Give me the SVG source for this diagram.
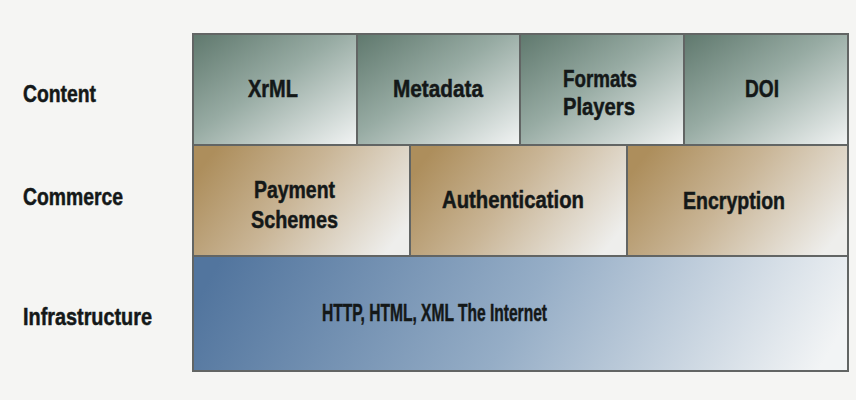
<svg xmlns="http://www.w3.org/2000/svg" width="856" height="400" viewBox="0 0 856 400">
<defs>
<linearGradient id="gC" x1="0" y1="0" x2="1" y2="1">
<stop offset="0" stop-color="#5f786d"/>
<stop offset="0.45" stop-color="#97aba3"/>
<stop offset="1" stop-color="#f2f4f4"/>
</linearGradient>
<linearGradient id="gM" x1="0" y1="0.3" x2="1" y2="0.7">
<stop offset="0" stop-color="#ad8e5c"/>
<stop offset="0.45" stop-color="#c9b596"/>
<stop offset="1" stop-color="#eeeeec"/>
</linearGradient>
<linearGradient id="gI" x1="0" y1="0.45" x2="1" y2="0.55">
<stop offset="0" stop-color="#52759e"/>
<stop offset="0.5" stop-color="#95adc6"/>
<stop offset="1" stop-color="#f2f4f5"/>
</linearGradient>
</defs>
<style>
.t{font-family:"Liberation Sans",Arial,sans-serif;font-weight:bold;font-size:24px;fill:#141818;stroke:#141818;stroke-width:0.5}
.b{stroke:#626564;stroke-width:2}
.bc{fill:url(#gC)}
.bm{fill:url(#gM)}
.bi{fill:url(#gI)}
</style>
<rect width="856" height="400" fill="#f5f5f3"/>
<g id="labels">
<text class="t" x="23" y="102" textLength="73" lengthAdjust="spacingAndGlyphs">Content</text>
<text class="t" x="23" y="205" textLength="100" lengthAdjust="spacingAndGlyphs">Commerce</text>
<text class="t" x="23" y="325" textLength="129" lengthAdjust="spacingAndGlyphs">Infrastructure</text>
</g>
<g id="xrml"><rect class="b bc" x="193" y="34" width="164" height="111"/>
<text class="t" x="248" y="97" textLength="50" lengthAdjust="spacingAndGlyphs">XrML</text></g>
<g id="metadata"><rect class="b bc" x="357" y="34" width="163" height="111"/>
<text class="t" x="393" y="97" textLength="90" lengthAdjust="spacingAndGlyphs">Metadata</text></g>
<g id="formats"><rect class="b bc" x="520" y="34" width="164" height="111"/>
<text class="t" x="563" y="87" textLength="74" lengthAdjust="spacingAndGlyphs">Formats</text>
<text class="t" x="563" y="115" textLength="72" lengthAdjust="spacingAndGlyphs">Players</text></g>
<g id="doi"><rect class="b bc" x="684" y="34" width="164" height="111"/>
<text class="t" x="745" y="97" textLength="34" lengthAdjust="spacingAndGlyphs">DOI</text></g>
<g id="payment"><rect class="b bm" x="193" y="145" width="217" height="111"/>
<text class="t" x="254" y="198" textLength="81" lengthAdjust="spacingAndGlyphs">Payment</text>
<text class="t" x="251" y="228" textLength="87" lengthAdjust="spacingAndGlyphs">Schemes</text></g>
<g id="authentication"><rect class="b bm" x="410" y="145" width="217" height="111"/>
<text class="t" x="442" y="208" textLength="142" lengthAdjust="spacingAndGlyphs">Authentication</text></g>
<g id="encryption"><rect class="b bm" x="627" y="145" width="221" height="111"/>
<text class="t" x="683" y="209" textLength="102" lengthAdjust="spacingAndGlyphs">Encryption</text></g>
<g id="internet"><rect class="b bi" x="193" y="256" width="655" height="115"/>
<text class="t" x="322" y="321" textLength="225" lengthAdjust="spacingAndGlyphs">HTTP, HTML, XML The Internet</text></g>
<g id="connectors"/>
</svg>
